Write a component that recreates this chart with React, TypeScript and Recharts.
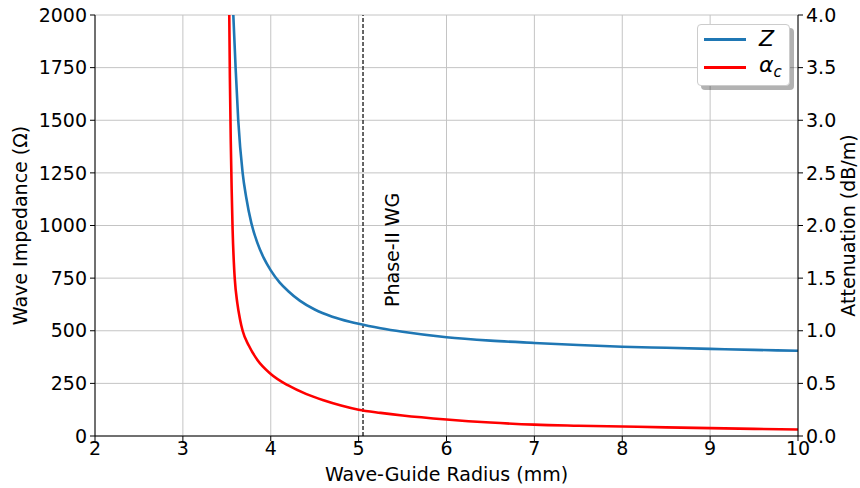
import {
  CartesianGrid,
  Legend,
  Line,
  LineChart,
  ReferenceLine,
  XAxis,
  YAxis
} from "recharts";

// impedance curve (radius mm -> ohm)
const zRadius = [3.574, 3.6, 3.63, 3.68, 3.72, 3.78, 3.85, 3.92, 4.0, 4.1, 4.2, 4.33, 4.5, 4.7, 4.9, 5.0, 5.25, 5.5, 6.0, 6.5, 7.0, 7.5, 8.0, 8.5, 9.0, 9.5, 10.0];
const zValues = [2000, 1750, 1500, 1250, 1135, 1010, 915, 846, 787, 730, 688, 643, 601, 567, 543, 533, 512, 495, 469, 453, 442, 432, 424, 419, 414, 409, 405];

// attenuation curve (radius mm -> dB/m)
const aRadius = [3.528, 3.535, 3.545, 3.555, 3.566, 3.58, 3.59, 3.62, 3.65, 3.68, 3.75, 3.85, 4.0, 4.2, 4.4, 4.6, 4.8, 5.0, 5.25, 5.5, 6.0, 6.5, 7.0, 7.5, 8.0, 8.5, 9.0, 9.5, 10.0];
const aValues = [4.0, 3.4, 2.8, 2.35, 1.96, 1.65, 1.5, 1.26, 1.11, 1.0, 0.86, 0.72, 0.59, 0.48, 0.4, 0.34, 0.29, 0.25, 0.22, 0.195, 0.157, 0.128, 0.108, 0.098, 0.09, 0.082, 0.075, 0.068, 0.062];

const xTicks = [2, 3, 4, 5, 6, 7, 8, 9, 10];
const zTicks = [0, 250, 500, 750, 1000, 1250, 1500, 1750, 2000];
const aTicks = [0, 0.5, 1.0, 1.5, 2.0, 2.5, 3.0, 3.5, 4.0];
const phaseTwoRadius = 5.05;

const zData = zRadius.map((r, i) => ({ r, z: zValues[i] }));
const aData = aRadius.map((r, i) => ({ r, a: aValues[i] }));

const FONT = "DejaVu Sans";
const FS = 19;
const tickStyle = { fontSize: FS, fill: "#000", fontFamily: FONT };

const LegendBox = () => (
  <div
    style={{
      width: 91,
      height: 60,
      background: "#fff",
      border: "1px solid #cccccc",
      borderRadius: 4,
      boxShadow: "4px 4px 0 rgba(0,0,0,0.3)",
      fontFamily: FONT,
      position: "relative"
    }}
  >
    <div style={{ position: "absolute", left: 6, top: 13, width: 42, height: 3, background: "#1f77b4" }} />
    <div style={{ position: "absolute", left: 61, top: 1, fontSize: 22, fontStyle: "italic" }}>Z</div>
    <div style={{ position: "absolute", left: 6, top: 41, width: 42, height: 3, background: "#ff0000" }} />
    <div style={{ position: "absolute", left: 61, top: 27, fontSize: 22, fontStyle: "italic" }}>
      α<sub style={{ fontSize: 15 }}>c</sub>
    </div>
  </div>
);

export default function App() {
  return (
    <div style={{ position: "absolute", left: 0, top: 0, fontFamily: FONT }}>
      <LineChart width={860} height={488} margin={{ top: 15, right: 0, bottom: 0, left: 0 }}>
        <CartesianGrid stroke="#c4c4c4" strokeWidth={1} xAxisId="x" yAxisId="z" />
        <XAxis
          xAxisId="x"
          type="number"
          dataKey="r"
          domain={[2, 10]}
          ticks={xTicks}
          allowDuplicatedCategory={false}
          height={52}
          tick={tickStyle}
          tickSize={5}
          tickMargin={1}
          stroke="#000"
          label={({ viewBox }: any) => (
            <text
              x={viewBox.x + viewBox.width / 2}
              y={481}
              textAnchor="middle"
              fontSize={FS}
              fontFamily={FONT}
              fill="#000"
            >
              Wave-Guide Radius (mm)
            </text>
          )}
        />
        <XAxis
          xAxisId="top"
          orientation="top"
          type="number"
          domain={[2, 10]}
          height={0}
          tick={false}
          tickLine={false}
          stroke="#000"
        />
        <YAxis
          yAxisId="z"
          domain={[0, 2000]}
          ticks={zTicks}
          width={95}
          tick={tickStyle}
          tickSize={5}
          tickMargin={3}
          stroke="#000"
          label={({ viewBox }: any) => {
            const cy = viewBox.y + viewBox.height / 2;
            return (
              <text
                x={27}
                y={cy}
                transform={`rotate(-90 27 ${cy})`}
                textAnchor="middle"
                fontSize={FS}
                fontFamily={FONT}
                fill="#000"
              >
                Wave Impedance (Ω)
              </text>
            );
          }}
        />
        <YAxis
          yAxisId="a"
          orientation="right"
          domain={[0, 4]}
          ticks={aTicks}
          tickFormatter={(v: number) => v.toFixed(1)}
          width={62}
          tick={{ ...tickStyle, textAnchor: "start" }}
          tickSize={5}
          tickMargin={3}
          stroke="#000"
          label={({ viewBox }: any) => {
            const cy = viewBox.y + viewBox.height / 2;
            return (
              <text
                x={855}
                y={cy}
                transform={`rotate(-90 855 ${cy})`}
                textAnchor="middle"
                fontSize={FS}
                fontFamily={FONT}
                fill="#000"
              >
                Attenuation (dB/m)
              </text>
            );
          }}
        />
        <ReferenceLine
          xAxisId="x"
          yAxisId="z"
          x={phaseTwoRadius}
          stroke="#333"
          strokeWidth={1.5}
          strokeDasharray="4 2"
          label={({ viewBox }: any) => {
            const tx = viewBox.x + 36;
            return (
              <text
                x={tx}
                y={307}
                transform={`rotate(-90 ${tx} 307)`}
                textAnchor="start"
                fontSize={FS}
                fontFamily={FONT}
                fill="#000"
              >
                Phase-II WG
              </text>
            );
          }}
        />
        <Line
          xAxisId="x"
          yAxisId="z"
          data={zData}
          dataKey="z"
          name="Z"
          type="monotone"
          stroke="#1f77b4"
          strokeWidth={2.6}
          dot={false}
          isAnimationActive={false}
        />
        <Line
          xAxisId="x"
          yAxisId="a"
          data={aData}
          dataKey="a"
          name="αc"
          type="monotone"
          stroke="#ff0000"
          strokeWidth={2.6}
          dot={false}
          isAnimationActive={false}
        />
        <Legend
          layout="vertical"
          align="center"
          verticalAlign="middle"
          content={() => <LegendBox />}
          wrapperStyle={{ top: 24, left: 697, width: "auto" }}
        />
      </LineChart>
    </div>
  );
}
